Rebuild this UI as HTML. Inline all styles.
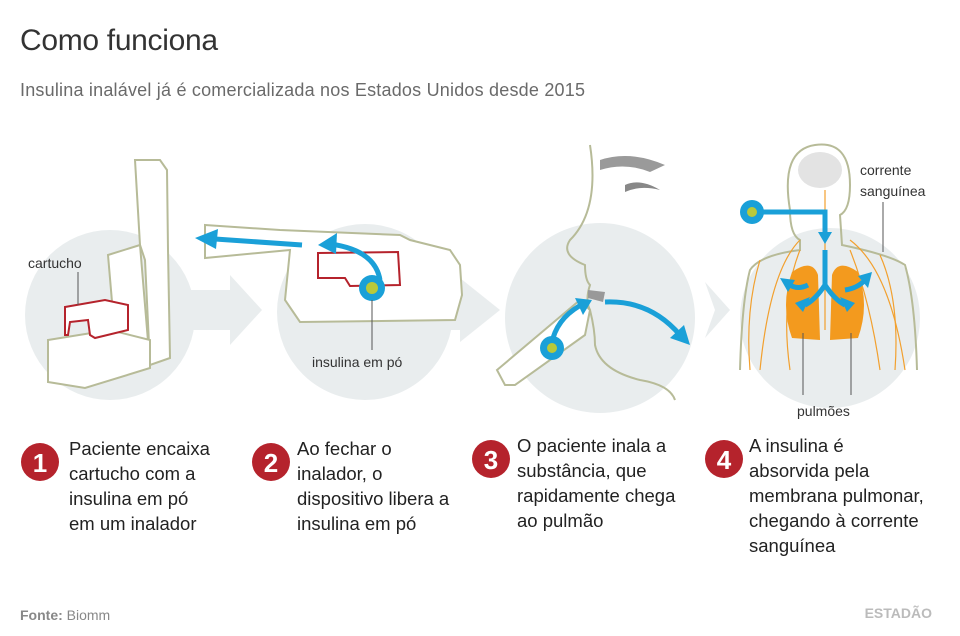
<!DOCTYPE html>
<html><head><meta charset="utf-8"><style>
body{margin:0;background:#fff;width:960px;height:636px;overflow:hidden;font-family:"Liberation Sans",sans-serif;}
svg{position:absolute;left:0;top:0}
</style></head><body>
<svg width="960" height="636" viewBox="0 0 960 636" font-family="Liberation Sans, sans-serif">
<text x="20" y="50" font-size="30" fill="#333" textLength="198">Como funciona</text>
<text x="20" y="96" font-size="18" fill="#6a6a6a" textLength="565">Insulina inalável já é comercializada nos Estados Unidos desde 2015</text>
<g fill="#e9edee">
<circle cx="110" cy="315" r="85"/>
<circle cx="365" cy="312" r="88"/>
<circle cx="600" cy="318" r="95"/>
<circle cx="830" cy="318" r="90"/>
<rect x="190" y="290" width="40" height="40"/><polygon points="230,275 262,310 230,345"/>
<rect x="440" y="290" width="20" height="40"/><polygon points="460,278 500,310 460,342"/>
<polygon points="705,282 730,310 705,338 715,310"/>
</g>
<g fill="#fff" stroke="#b7bb98" stroke-width="2">
<path d="M135,160 L160,160 L167,170 L168,250 L170,358 L150,365 L145,260 L140,245 Z"/>
<path d="M108,255 L140,245 L150,365 L118,372 Z"/>
<path d="M48,340 L110,330 L150,340 L150,368 L85,388 L48,382 Z"/>
</g>
<g fill="#fff" stroke="#b5232c" stroke-width="2"><path d="M65,307 L105,300 L128,305 L128,330 L95,338 L90,335 L88,320 L70,322 L68,335 L65,335Z"/></g>
<text x="28" y="268" font-size="14" fill="#333">cartucho</text>
<line x1="78" y1="272" x2="78" y2="305" stroke="#555" stroke-width="1"/>
<g fill="#fff" stroke="#b7bb98" stroke-width="2">
<path d="M205,225 L280,230 L400,235 L410,240 L450,250 L460,265 L462,295 L455,320 L300,322 L285,300 L290,250 L205,258 Z"/>
</g>
<g fill="none" stroke="#b5232c" stroke-width="2"><path d="M318,253 L398,252 L400,285 L350,286 L345,278 L318,278 Z"/></g>
<g fill="none" stroke="#1aa0d8" stroke-width="5">
<line x1="302" y1="245" x2="215" y2="239"/><path d="M380,280 Q375,250 330,244"/>
</g>
<g fill="#1aa0d8"><polygon points="195,238 218,229 216,249"/><polygon points="318,245 337,233 336,254"/></g>
<circle cx="372" cy="288" r="13" fill="#1aa0d8"/><circle cx="372" cy="288" r="6" fill="#b9c93a"/>
<line x1="372" y1="300" x2="372" y2="350" stroke="#555"/>
<text x="312" y="367" font-size="14" fill="#333">insulina em pó</text>
<g fill="none" stroke="#b7bb98" stroke-width="2">
<path d="M590,145 Q600,210 570,240 Q560,255 585,265 Q585,280 590,285 Q585,300 590,310 Q595,330 595,345 Q600,370 640,380 Q670,385 675,400"/>
</g>
<path d="M600,160 Q630,150 665,165 L650,172 Q625,162 600,170Z" fill="#9a9a9a"/>
<path d="M625,185 Q640,178 660,190 Q640,185 625,192Z" fill="#888"/>
<path d="M588,290 L605,292 L603,302 L588,298Z" fill="#999"/>
<g fill="#fff" stroke="#b7bb98" stroke-width="2"><path d="M497,370 L580,300 L590,310 L585,335 L515,385 L505,385Z"/></g>
<g fill="none" stroke="#1aa0d8" stroke-width="5"><path d="M553,338 Q560,315 585,303"/><path d="M605,302 Q650,300 680,335"/></g>
<polygon points="592,300 575,298 583,315" fill="#1aa0d8"/><polygon points="690,345 670,338 684,325" fill="#1aa0d8"/>
<circle cx="552" cy="348" r="12" fill="#1aa0d8"/><circle cx="552" cy="348" r="5" fill="#b9c93a"/>
<g fill="none" stroke="#b7bb98" stroke-width="2">
<path d="M790,210 Q780,150 815,145 Q850,140 850,185 Q850,210 840,215 L842,245 Q890,255 905,265 Q915,300 917,370"/>
<path d="M790,210 Q790,235 800,240 L800,250 Q760,255 750,270 Q742,300 740,370"/>
</g>
<ellipse cx="820" cy="170" rx="22" ry="18" fill="#e3e3e3"/>
<g stroke="#f2a02e" stroke-width="1.2" fill="none">
<path d="M825,190 L825,330"/><path d="M800,240 Q770,270 760,370"/><path d="M850,240 Q890,270 905,370"/>
<path d="M800,250 Q780,300 790,370"/><path d="M850,250 Q870,300 880,370"/><path d="M760,260 Q745,310 750,370"/><path d="M880,255 Q900,300 895,370"/>
</g>
<g fill="#f39a1e"><path d="M792,272 Q812,258 818,275 L820,340 L792,338 Q780,305 792,272Z"/><path d="M858,272 Q838,258 832,275 L830,340 L858,338 Q870,305 858,272Z"/></g>
<g fill="none" stroke="#1aa0d8" stroke-width="5"><path d="M762,212 L825,212 L825,235"/><path d="M825,250 L825,285 Q815,300 805,305"/><path d="M825,285 Q835,300 845,305"/><path d="M808,285 Q798,290 790,285"/><path d="M845,290 Q858,288 865,280"/></g>
<g fill="#1aa0d8"><polygon points="818,232 832,232 825,244"/><polygon points="795,303 810,297 803,312"/><polygon points="855,303 840,297 847,312"/><polygon points="780,278 795,280 788,292"/><polygon points="872,272 858,276 868,288"/></g>
<circle cx="752" cy="212" r="12" fill="#1aa0d8"/><circle cx="752" cy="212" r="5" fill="#b9c93a"/>
<text x="860" y="175" font-size="14" fill="#333">corrente</text>
<text x="860" y="196" font-size="14" fill="#333">sanguínea</text>
<line x1="883" y1="202" x2="883" y2="252" stroke="#555"/>
<line x1="803" y1="333" x2="803" y2="395" stroke="#555"/><line x1="851" y1="333" x2="851" y2="395" stroke="#555"/>
<text x="797" y="416" font-size="14" fill="#333">pulmões</text>
<g fill="#b5232c"><circle cx="40" cy="462" r="19"/><circle cx="271" cy="462" r="19"/><circle cx="491" cy="459" r="19"/><circle cx="724" cy="459" r="19"/></g>
<g fill="#fff" font-size="26" font-weight="bold" text-anchor="middle"><text x="40" y="472">1</text><text x="271" y="472">2</text><text x="491" y="469">3</text><text x="724" y="469">4</text></g>
<g font-size="18.5" fill="#222">
<text x="69" y="455">Paciente encaixa</text><text x="69" y="480">cartucho com a</text><text x="69" y="505">insulina em pó</text><text x="69" y="530">em um inalador</text>
<text x="297" y="455">Ao fechar o</text><text x="297" y="480">inalador, o</text><text x="297" y="505">dispositivo libera a</text><text x="297" y="530">insulina em pó</text>
<text x="517" y="452">O paciente inala a</text><text x="517" y="477">substância, que</text><text x="517" y="502">rapidamente chega</text><text x="517" y="527">ao pulmão</text>
<text x="749" y="452">A insulina é</text><text x="749" y="477">absorvida pela</text><text x="749" y="502">membrana pulmonar,</text><text x="749" y="527">chegando à corrente</text><text x="749" y="552">sanguínea</text>
</g>
<text x="20" y="620" font-size="14" fill="#888"><tspan font-weight="bold">Fonte:</tspan> Biomm</text>
<text x="932" y="618" font-size="14" font-weight="bold" fill="#bbb" text-anchor="end">ESTADÃO</text>
</svg>
</body></html>
